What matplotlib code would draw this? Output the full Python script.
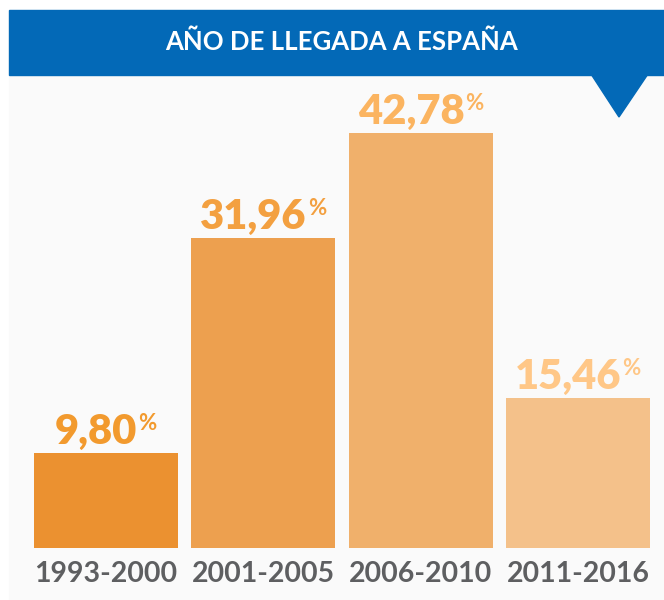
"""Bar chart: año de llegada a España."""

import matplotlib
matplotlib.use("Agg")
import matplotlib.pyplot as plt
from matplotlib.patches import Rectangle, Polygon

TITLE = "AÑO DE LLEGADA A ESPAÑA"
periods = ["1993-2000", "2001-2005", "2006-2010", "2011-2016"]
shares = [9.80, 31.96, 42.78, 15.46]
labels = ["9,80", "31,96", "42,78", "15,46"]

BAR_COLORS = ["#EB9130", "#EDA04F", "#F0B06B", "#F4C18A"]
LABEL_COLORS = ["#F29A2E", "#F3A040", "#FBB460", "#FFC787"]
BLUE = "#0369B7"
GRAY = "#5E5F61"
FONT = "Lato"

W, H = 664, 600


def px(x, y):
    """pixel (from top-left) -> figure fraction"""
    return x / W, 1 - y / H


def main():
    fig = plt.figure(figsize=(W / 100, H / 100), dpi=100, facecolor="white")

    # background panel, banner and pointer
    fig.patches.append(Rectangle(px(9, 600), (W - 9) / W, 525 / H,
                                 transform=fig.transFigure, color="#FAFAFA", zorder=-2))
    fig.patches.append(Rectangle(px(9, 75), (W - 9) / W, 65 / H,
                                 transform=fig.transFigure, color=BLUE, zorder=-1))
    fig.patches.append(Polygon([px(591, 74), px(648, 74), px(619, 117)],
                               transform=fig.transFigure, color=BLUE, zorder=-1))
    fig.text(*px(342, 42), TITLE, color="white", fontsize=18.5, fontweight="bold",
             family=FONT, ha="center", va="center")

    # bar axes: 9.7 px per percentage point, baseline at y=548
    left, right, top, bottom = 27.35, 656.65, 90, 548
    ax = fig.add_axes([left / W, 1 - bottom / H, (right - left) / W, (bottom - top) / H])
    ax.set_zorder(3)
    ax.set_facecolor("none")
    xs = range(len(shares))
    ax.bar(xs, shares, width=0.915, color=BAR_COLORS, zorder=2)
    ax.set_xlim(-0.5, len(shares) - 0.5)
    ax.set_ylim(0, (bottom - top) / 9.7)
    ax.set_xticks(list(xs))
    ax.set_xticklabels(periods, fontsize=20.5, fontweight="bold", color=GRAY, family=FONT)
    ax.tick_params(axis="x", length=0, pad=9)
    ax.set_yticks([])
    for s in ax.spines.values():
        s.set_visible(False)

    renderer = fig.canvas.get_renderer()
    for x, v, lab, c in zip(xs, shares, labels, LABEL_COLORS):
        num = ax.annotate(lab, (x, v), xytext=(0, 9), textcoords="offset pixels",
                          ha="center", va="baseline", fontsize=30, fontweight="heavy",
                          color=c, family=FONT)
        pct = ax.annotate("%", (x, v), xytext=(0, 23), textcoords="offset pixels",
                          ha="left", va="baseline", fontsize=16, fontweight="bold",
                          color=c, family=FONT)
        wn = num.get_window_extent(renderer).width
        wp = pct.get_window_extent(renderer).width
        total = wn + wp + 1
        num.set_position((-total / 2 + wn / 2, 9))
        pct.set_position((-total / 2 + wn + 1, 23))

    fig.savefig("out.png", dpi=100, facecolor=fig.get_facecolor())
    plt.close(fig)


if __name__ == "__main__":
    main()
